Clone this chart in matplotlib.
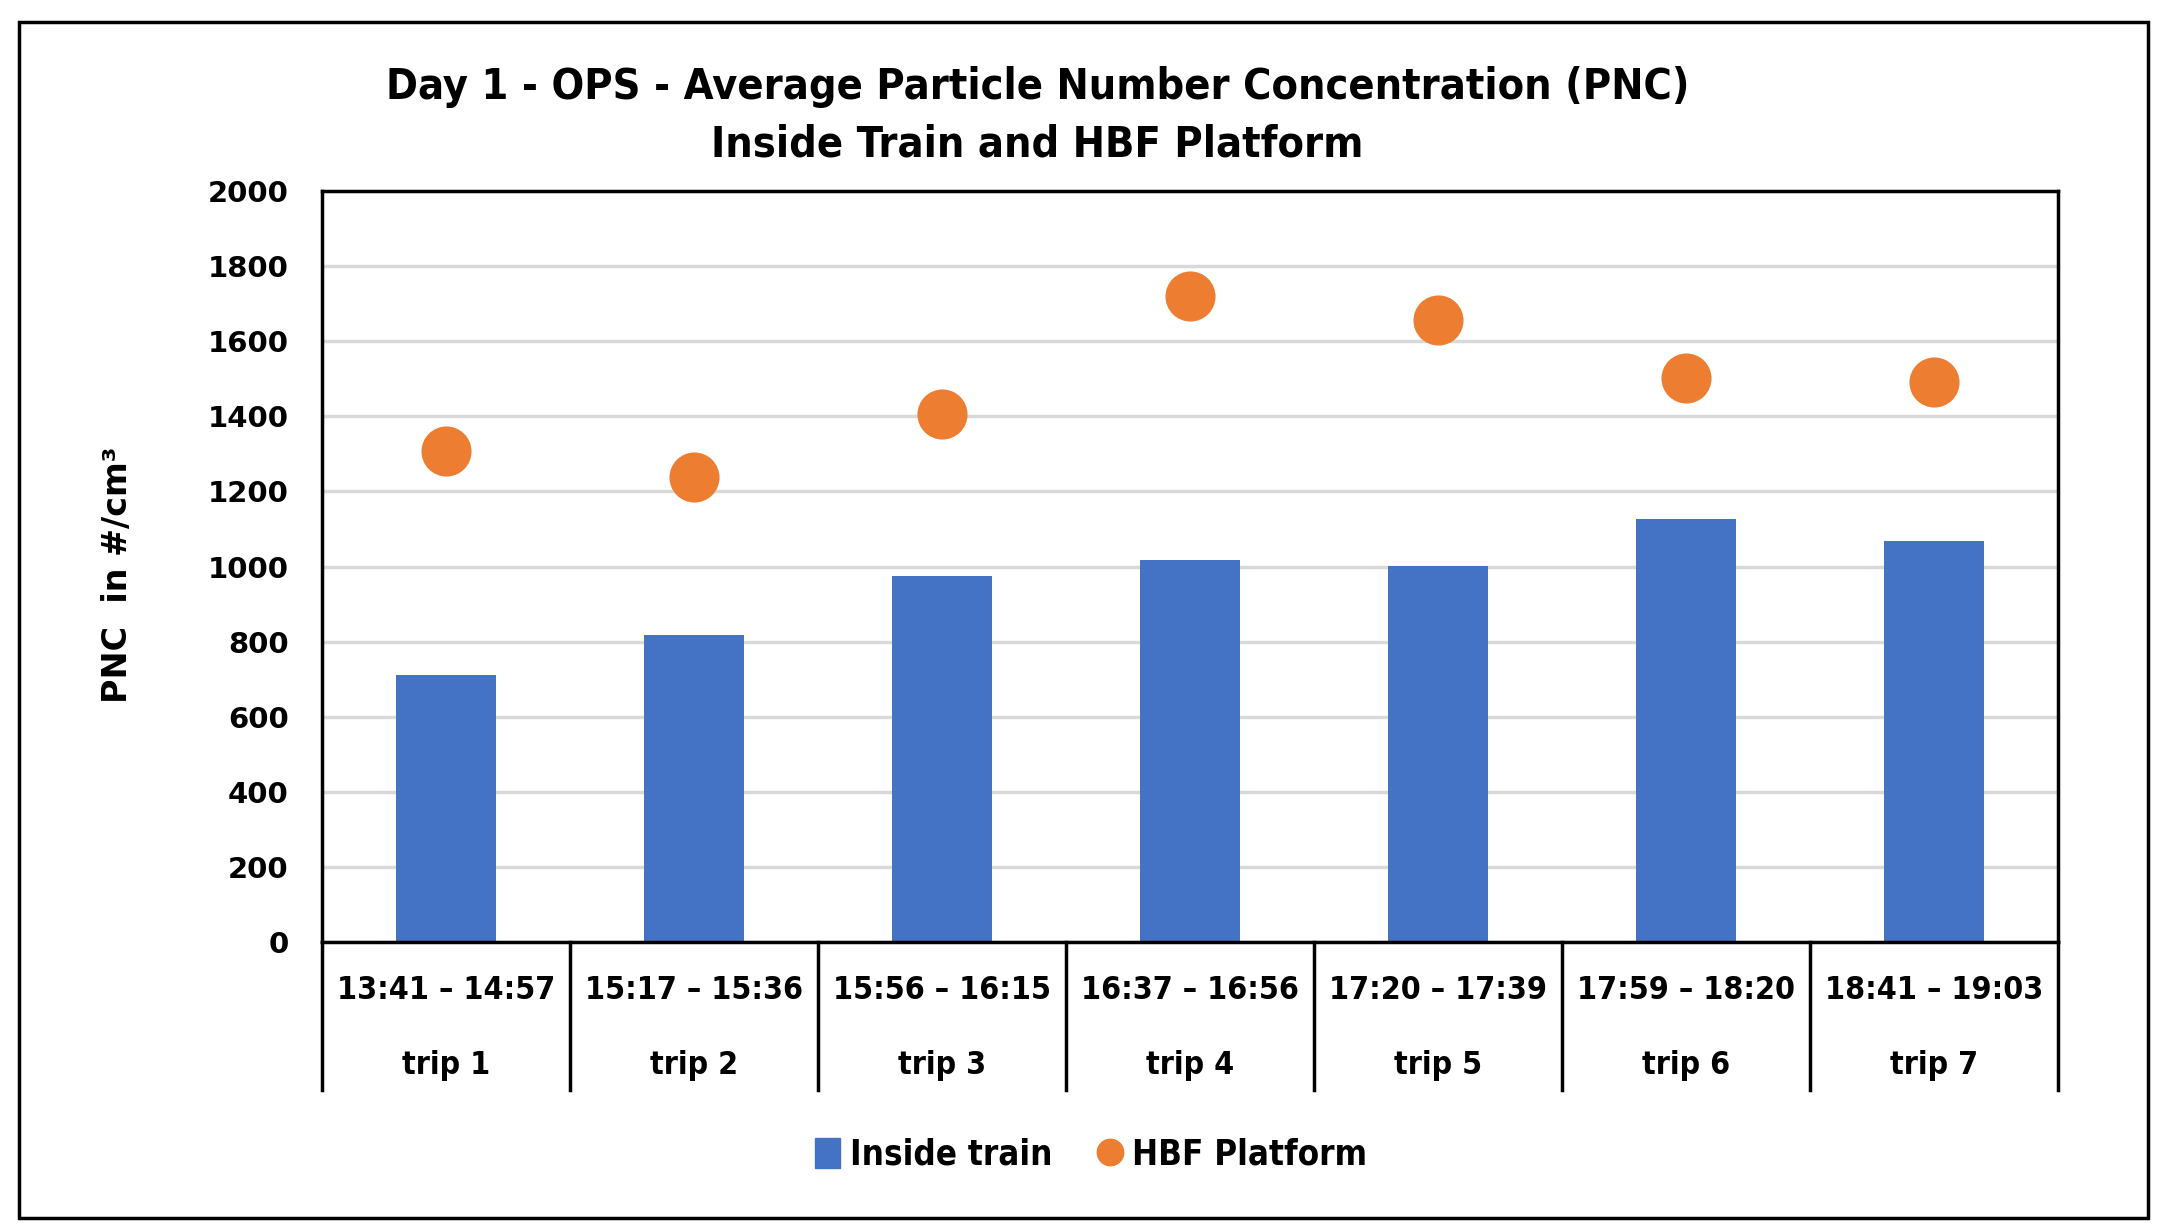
import numpy as np
import matplotlib.pyplot as plt
from matplotlib.lines import Line2D
from matplotlib.patches import Patch, Rectangle
from matplotlib.font_manager import FontProperties

# data
times = ["13:41 – 14:57", "15:17 – 15:36", "15:56 – 16:15", "16:37 – 16:56",
         "17:20 – 17:39", "17:59 – 18:20", "18:41 – 19:03"]
trips = ["trip 1", "trip 2", "trip 3", "trip 4", "trip 5", "trip 6", "trip 7"]
inside_train = [711, 818, 976, 1017, 1002, 1127, 1068]
hbf_platform = [1308, 1238, 1407, 1720, 1657, 1503, 1492]

blue = "#4472C4"
orange = "#ED7D31"


def cond(size):
    return FontProperties(family="DejaVu Sans", weight="bold", stretch="condensed", size=size)


fig = plt.figure(figsize=(21.57, 12.30), dpi=100)
ax = fig.add_axes([0.1493, 0.2341, 0.8048, 0.6106])

x = np.arange(len(trips))
ax.bar(x, inside_train, width=0.40, color=blue, zorder=2)
ax.scatter(x, hbf_platform, s=1300, color=orange, zorder=3, linewidths=0)

ax.set_xlim(-0.5, len(trips) - 0.5)
ax.set_ylim(0, 2000)
ax.set_yticks(np.arange(0, 2001, 200))
ax.set_xticks([])
ax.tick_params(axis="y", length=0, pad=24, labelsize=21)
for lab in ax.get_yticklabels():
    lab.set_fontweight("bold")
ax.grid(axis="y", color="#D9D9D9", linewidth=2.5, zorder=0)
ax.set_axisbelow(True)
for s in ax.spines.values():
    s.set_color("black")
    s.set_linewidth(2.5)

# two-level category labels with separators
ext = -0.197
for b in np.arange(-0.5, len(trips), 1.0):
    ax.plot([b, b], [0, ext], transform=ax.get_xaxis_transform(),
            color="black", linewidth=2.5, clip_on=False)
for i in range(len(trips)):
    ax.text(i, -0.064, times[i], transform=ax.get_xaxis_transform(),
            ha="center", va="center", fontproperties=cond(23))
    ax.text(i, -0.165, trips[i], transform=ax.get_xaxis_transform(),
            ha="center", va="center", fontproperties=cond(23))

fig.text(0.0547, 0.533, "PNC  in #/cm³", rotation=90, ha="center", va="center",
         fontsize=24, fontweight="bold")

fig.text(0.481, 0.906, "Day 1 - OPS - Average Particle Number Concentration (PNC)\nInside Train and HBF Platform",
         ha="center", va="center", fontproperties=cond(31), linespacing=1.45)

handles = [Patch(color=blue, label="Inside train"),
           Line2D([], [], marker="o", linestyle="none", color=orange,
                  markersize=19, label="HBF Platform")]
fig.legend(handles=handles, loc="center", bbox_to_anchor=(0.506, 0.061), ncol=2,
           frameon=False, prop=cond(25),
           handlelength=0.7, handleheight=0.95, handletextpad=0.3, columnspacing=1.3)

fig.patches.append(Rectangle((0.0088, 0.0098), 0.9870, 0.9723, transform=fig.transFigure,
                             fill=False, edgecolor="black", linewidth=2.5))

fig.savefig("out.png", dpi=100)
